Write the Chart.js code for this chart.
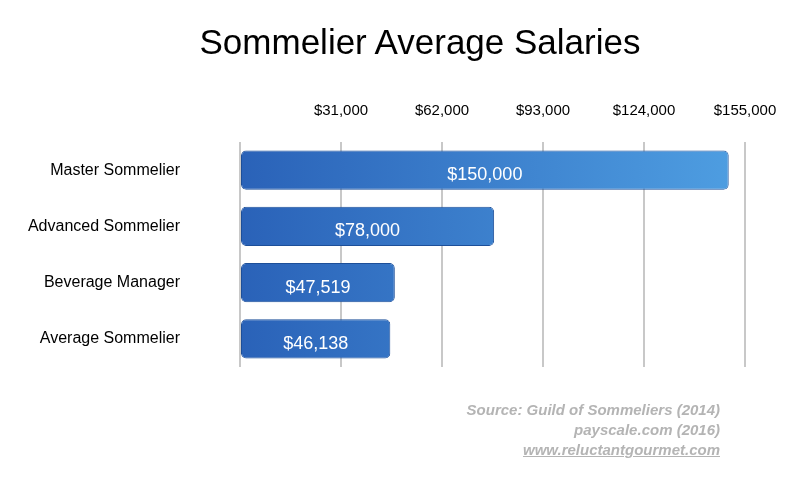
<!DOCTYPE html>
<html><head><meta charset="utf-8">
<script src="https://cdn.jsdelivr.net/npm/chart.js@4"></script>
<style>
body{margin:0;background:#fff;font-family:"Liberation Sans",Arial,sans-serif}
#wrap{position:relative;width:800px;height:489px}
#title{position:absolute;left:0;width:840px;top:22px;text-align:center;font-size:35px;color:#000}
#src{position:absolute;right:80px;top:400px;text-align:right;color:#b4b4b4;font-style:italic;font-weight:bold;font-size:15px;line-height:20px}
#src u{text-decoration:underline}
</style></head><body>
<div id="wrap"><canvas id="c" width="800" height="489"></canvas>
<div id="title">Sommelier Average Salaries</div>
<div id="src">Source: Guild of Sommeliers (2014)<br>payscale.com (2016)<br><u>www.reluctantgourmet.com</u></div></div>
<script>
// data
const roles = ['Master Sommelier','Advanced Sommelier','Beverage Manager','Average Sommelier'];
const salaries = [150000, 78000, 47519, 46138];
const tickMax = 155000, tickStep = 31000;

const fmt = v => '$' + v.toLocaleString('en-US');

const valueLabels = {
  id:'valueLabels',
  afterDatasetsDraw(chart){
    const c = chart.ctx, meta = chart.getDatasetMeta(0);
    c.save();
    c.fillStyle = '#fff'; c.font = '18px "Liberation Sans", Arial';
    c.textAlign = 'center'; c.textBaseline = 'middle';
    meta.data.forEach((b,i)=>{ c.fillText(fmt(salaries[i]), (b.base+b.x)/2, b.y+5); });
    c.restore();
  }
};

new Chart(document.getElementById('c'), {
  type:'bar',
  data:{ labels:roles, datasets:[{ data:salaries,
    backgroundColor:ctx=>{
      const a = ctx.chart.chartArea; if(!a) return '#2e6cc0';
      const g = ctx.chart.ctx.createLinearGradient(a.left,0,a.right,0);
      g.addColorStop(0,'#2a62b8'); g.addColorStop(1,'#4f9fe2'); return g;
    },
    borderColor:'#1d4f99', borderWidth:1, borderRadius:5, borderSkipped:false,
    barPercentage:0.7, categoryPercentage:1 }] },
  options:{
    indexAxis:'y', responsive:false, animation:false,
    layout:{ padding:{ left:0, right:55, top:80, bottom:122 } },
    plugins:{ legend:{display:false}, tooltip:{enabled:false} },
    scales:{
      x:{ position:'top', min:0, max:tickMax,
        ticks:{ stepSize:tickStep, color:'#000', font:{ size:15 }, padding:22,
          callback:v=> v===0 ? '' : fmt(v) },
        grid:{ color:'#c8c8c8', lineWidth:2, drawTicks:false }, border:{ display:false } },
      y:{ ticks:{ color:'#000', font:{ size:16 }, padding:52 },
        grid:{ display:false }, border:{ display:false },
        afterFit:s=>{ s.width = 240; } }
    }
  },
  plugins:[valueLabels]
});
</script></body></html>
